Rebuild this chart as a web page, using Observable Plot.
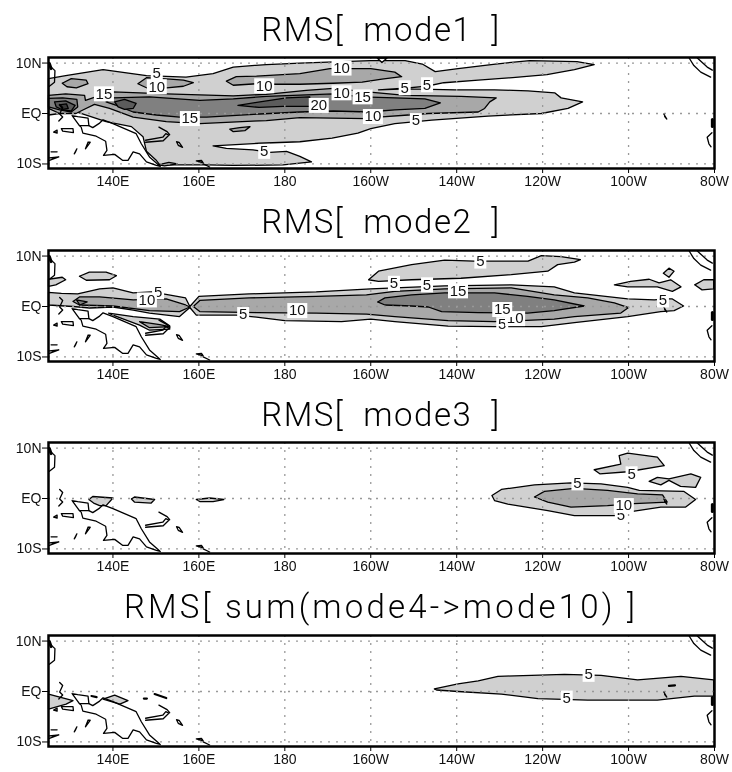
<!DOCTYPE html>
<html><head><meta charset="utf-8">
<script src="https://cdn.jsdelivr.net/npm/d3@7"></script>
<script src="https://cdn.jsdelivr.net/npm/@observablehq/plot@0.6"></script>
<style>
html,body{margin:0;padding:0;background:#fff;width:732px;height:772px;overflow:hidden}
#root{position:absolute;left:0;top:0;width:732px;height:772px;filter:blur(0.35px)}
.t{position:absolute;left:48px;width:666px;text-align:center;white-space:pre;font-family:Roboto,"Liberation Sans",sans-serif;font-weight:300;font-size:33px;line-height:36px;color:#000}
</style></head><body><div id="root"></div>
<script>
const lonTicks=[140,160,180,200,220,240,260,280];
const lonLabels=["140E","160E","180","160W","140W","120W","100W","80W"];
const latTicks=[10,0,-10];
const latLabels=["10N","EQ","10S"];
const titles=["RMS[  mode1  ]","RMS[  mode2  ]","RMS[  mode3  ]","RMS[ sum(mode4->mode10) ]"];
const shades={5:"#d0d0d0",10:"#a8a8a8",15:"#808080",20:"#5c5c5c",25:"#3a3a3a"};

const mode1Level5=[[[125,6.9],[129,7.5],[137.7,8.7],[147.8,7.5],[157,7.2],[163.3,7.9],[168,9.2],[175.7,9.7],[183.5,10],[190,10.2],[200,10.5],[208,10.5],[212,9.8],[215,8.3],[220.3,8.9],[229,9.8],[237,10.5],[248,10.3],[252,9.7],[247.4,8.7],[241,7.7],[233,7.1],[225,6.6],[217,6.1],[213,5.4],[208.7,5.1],[201.8,4.7],[208.7,4.9],[219.6,4.7],[228.8,4.7],[236.6,4.5],[242.8,4.1],[244.3,3.1],[249.3,2.3],[245.9,1],[239.7,0],[227.3,-0.5],[214.2,-1.3],[205.6,-2],[200,-3],[197,-3.9],[191,-4.9],[183.5,-5.6],[174,-5.9],[163.3,-6.4],[166.4,-6.9],[172.6,-7.2],[176.5,-7.7],[180.4,-7.5],[183.5,-8.5],[186.2,-9.6],[179.6,-10.2],[168,-10.3],[161.8,-10.2],[150.9,-10.2],[150,-9.2],[147.8,-7.5],[147,-4.6],[144.3,-2.6],[138.4,-1.6],[133.8,-0.3],[131.5,0.3],[127.6,0],[125,-0.3]]];
const mode1Hole=[[[201.5,11],[202.6,10.1],[203.8,11]]];
const mode1Level10=[
[[128.2,6],[130.3,6.9],[133.8,6.6],[134.2,5.9],[131.5,5.1],[129.3,5.3]],
[[147.8,7.1],[153.3,6.8],[156.4,6.6],[158.7,6.1],[156.4,5.4],[152.5,5.1],[147.8,5.1],[145.8,5.9]],
[[166.4,6.4],[168.7,7.3],[173.4,7.4],[183.5,7.9],[190.5,8.9],[200,8.9],[205.6,8.2],[207.2,7.3],[202.6,6.8],[198,6.2],[191.3,6],[183.5,5.8],[178,5.8],[173.4,5.9],[168,5.6]],
[[125,3.6],[129,3.9],[133.4,3.6],[133.6,2.6],[137,3.6],[140,4.3],[152.4,3.9],[168,3.5],[175.7,3.8],[185,4.6],[191.3,5],[198,4.4],[208,3.6],[221,3.4],[229.2,3.1],[227.7,2.3],[226.5,1],[225,0.3],[213.4,0],[208.7,-0.3],[201.8,-0.7],[199,-1],[183.5,-0.8],[175.7,-1.4],[160.2,-2],[152.4,-1.6],[144.7,-0.7],[139.2,1],[135.7,1.8],[133,0.7],[131.4,0],[127.6,0],[125,1]],
[[167.2,-3.1],[169.5,-2.8],[171.9,-2.6],[170.7,-3.4],[168,-3.6]],
[[150.5,-10.2],[153,-9.7],[155,-10],[152,-10.4]]];
const mode1Level15=[
[[125,3],[128.3,3.1],[131.6,2.8],[131.8,1.3],[130.3,0.3],[127.6,0.7],[125,1.3]],
[[140,3.1],[148.5,3.3],[160.2,2.6],[168,2.9],[175.7,3.4],[185,3.7],[191.3,3.9],[198,3.3],[205.6,3.1],[212.6,2.9],[216.2,2.1],[212.6,1],[205.6,0.7],[199.5,0.3],[191.3,0.5],[183.5,0.3],[174.2,-0.1],[161.8,-0.7],[155.5,-0.7],[150.1,-0.3],[144.7,0.3],[140.8,1.6],[138.4,2.3]]];
const mode1Level20=[
[[126.4,2.3],[129,2.5],[131.2,1.6],[130.3,0.5],[128.3,0.7],[126.8,1.3]],
[[140.4,2.3],[142.7,2.8],[145.4,2],[144.7,1],[142.7,0.8],[141.2,1.3]],
[[169.1,1.6],[174.2,2.3],[180.4,3.1],[185.8,3.3],[185.8,1.4],[179.6,1.4],[174,1.2]]];
const mode1Level25=[[[127.5,1.7],[129.2,1.9],[129.6,1],[128.4,0.8]]];

const mode2Level5=[
[[125,2.8],[128,2.6],[131.8,2.5],[136.9,3.5],[140,3.7],[144.7,2.7],[149,2.9],[153,2.3],[156.9,1.7],[157.9,0],[160,2],[171.7,2.5],[187.3,2.9],[200,3.5],[205.6,3.7],[217.2,4.1],[232.7,4.3],[242.7,3.9],[247.4,2.7],[259.8,1.5],[266,1.3],[268.7,1.5],[270.2,1.5],[272.8,0.1],[270.6,-0.8],[267.5,-1],[259.8,-2],[247.4,-3.2],[239.7,-4],[228.8,-4],[218,-3.9],[205.6,-3],[200,-2.5],[193.2,-3],[180,-2.8],[173.4,-2.1],[168.7,-1.7],[159.4,-1.7],[157.9,-0.2],[155.5,-2],[148.5,-1.3],[144.7,-0.7],[140,-0.1],[134.6,-0.3],[130.7,0],[125,0.3]],
[[139,-1.3],[144.7,-2],[150.9,-2.5],[153.2,-3.8],[153.2,-4.5],[148.5,-4.7],[146.2,-3.7],[140,-1.7]],
[[199.5,5.3],[201.8,7],[209.5,8.3],[217.2,9.2],[224,9],[236.6,9],[239.7,10.1],[244.3,9.9],[248.8,9.3],[247.4,8.8],[243.5,8.3],[241.2,7],[232.7,6.3],[221,5.6],[209.5,5.3],[201.8,5]],
[[132.2,6],[134.5,6.8],[138.4,6.8],[140.8,6.1],[139.2,5.3],[133.8,5.2]],
[[125,5.4],[128.2,5.8],[129,5.3],[126.7,4.3],[125,4]],
[[256.7,4.3],[260.5,5],[264.8,5.4],[267.1,4.7],[269.8,5.3],[272.2,3.9],[270.2,3],[266.7,3.9],[259.8,3.9]],
[[268.1,6.6],[269.4,7.6],[270.6,7],[269.4,5.8]],
[[275.4,4.3],[277.5,5.3],[279.8,5.3],[279.8,3.5],[277.1,3.3]]];
const mode2Level10=[
[[130.7,1],[132.2,1.9],[136.9,1.9],[144.7,1.3],[152.4,1.5],[156.9,0.3],[157.9,-0.1],[155.5,-1],[148.5,-0.8],[140,0.1],[132.2,0.3]],
[[146.2,-3],[150.9,-3.6],[153.2,-4],[148.5,-4.2]],
[[158.7,0],[160.2,1.2],[171.7,1.7],[187.3,2],[199,2.3],[205.6,3],[217.2,3.5],[232.7,3.7],[242.7,2.3],[250.5,1.7],[256.7,0.7],[260,-0.2],[258.2,-1.3],[247.4,-2],[242.7,-2.5],[235,-2.8],[228.8,-3],[218,-2.8],[205.6,-2],[199,-1.5],[187.3,-1.3],[173.4,-1.2],[160.2,-1]]];
const mode2Level15=[
[[131.5,1.3],[134,0.9],[132.3,0.3]],
[[201.6,0.9],[203.3,1.7],[209.5,2.3],[217.2,2.7],[228.8,2.7],[236.5,2],[242.7,1.3],[249.7,0.1],[242.7,-0.8],[236.5,-1.3],[225,-1.2],[216.5,-1],[213.4,-0.1],[209.5,0.1],[203.3,0.3]]];

const mode3Level5=[
[[228.2,0.6],[230.4,1.8],[238.1,2.7],[246.6,3.1],[253.6,2.9],[259.8,2.2],[262.5,1.6],[272.9,1.4],[275.6,-0.2],[273.3,-1.7],[267.5,-1.7],[259.8,-2.7],[257.5,-3.4],[247.4,-3.4],[241.2,-2.4],[231.9,-1.1],[228.8,-0.4]],
[[252,5.7],[258.2,6.8],[257.8,8.5],[259.8,9],[266.7,8.2],[268.3,6.5],[259.8,5.3],[253.3,4.9]],
[[264.8,3.4],[266.7,4.2],[269.4,3.9],[274.5,4.9],[276.8,4.2],[275.6,2.2],[272.1,2.4],[269.4,3.6],[267.5,2.7]],
[[134.4,-0.2],[135.3,0.4],[140,0.1],[138.4,-1.4],[136.9,-1.4],[135.5,-0.9]],
[[144.3,-0.1],[145,0.3],[149.7,-0.2],[148.9,-0.9],[145,-0.7]],
[[159.4,-0.2],[162.5,0.1],[165.8,-0.2],[163.3,-0.6],[160.2,-0.6]]];
const mode3Level10=[[[238.1,0.3],[240.4,1.4],[247.4,2],[255.1,1.6],[262.1,0.9],[267.9,0.7],[269,-0.7],[261.3,-1],[255.1,-1.4],[246.6,-1.7],[241.2,-0.7]]];

const mode4Level5=[
[[214.8,0.5],[220.3,1.5],[225,2.1],[229.6,3],[237.4,3.2],[245.1,3.4],[253.6,3.2],[262.1,2.3],[272.2,3],[279.8,2.3],[279.8,-0.9],[275.3,-0.9],[266.7,-1.7],[250.5,-1.7],[238.9,-1.4],[230.4,-0.5],[220.3,0],[215.3,0.3]],
[[125,-0.5],[130.7,-1.8],[129.1,-2.5],[125,-3.5]],
[[137.7,-1.5],[140.4,-0.7],[143.5,-1.8],[141.6,-2.5]]];
const mode4Marks=[[[269.4,1.1],[270.8,1.2]],[[149.7,-0.5],[152.4,-1.3]],[[147.2,-1.4],[147.9,-1.4]],[[135,-0.9],[136.2,-1.1]]];

const coastLines=[
[[130.5,-0.4],[131.8,-0.6],[134.2,-0.9],[134.4,-2.4],[132.2,-2.4],[131.6,-1.7],[130.5,-0.4]],
[[132.2,-2.4],[132.6,-2.7],[133,-3.9],[136.1,-4.5],[138.3,-5.5],[138.6,-7.3],[137.8,-8.3],[140.4,-8.1],[142.3,-9.3],[143.5,-9.3],[144.7,-7.6],[146.2,-8],[147.8,-9.6],[150.1,-10.3],[151,-10.5],[150.1,-9.8],[148.5,-8.6],[146.6,-6],[145.4,-4],[140,-2],[137.7,-1.25],[136.9,-1.9],[135.3,-2.8],[134.4,-2.4]],
[[147.6,-5.7],[151.7,-5.4],[153,-4.3],[152.3,-4],[151.6,-4.7],[147.6,-5.3]],
[[150.7,-2.7],[152.6,-3.6],[153.2,-4.2]],
[[154.8,-5.6],[155.4,-5.7],[156.2,-6.7],[155.2,-6.3],[154.8,-5.6]],
[[159.4,-9.4],[160.6,-9.3],[161,-9.8],[159.4,-9.4]],
[[161,-10],[162.5,-10.6]],
[[127.6,1.8],[128.3,1.2],[127.6,-0.1],[128.3,-0.7],[127.4,-1.5]],
[[125.2,9.5],[126.5,8.5],[126.4,6.2],[125.2,5.4]],
[[128,-3],[130.7,-3],[130.8,-3.8],[128.3,-3.5],[128,-3]],
[[126.2,-3.7],[127,-3.3],[127,-3.9],[126.2,-3.7]],
[[134.2,-5.7],[134.7,-5.7],[133.6,-7],[134.2,-5.7]],
[[131.6,-7],[131,-8],[131.3,-7.6],[131.6,-7]],
[[125.2,-8.8],[127.4,-8.6],[125.2,-9.3]],
[[125.6,-7.6],[127,-7.6]],
[[274.1,11],[275.2,9.5],[276.8,8.2],[279.1,7.2]],
[[276,11],[278.3,9.2],[279.5,8.6]],
[[279.4,-3.8],[278.3,-4.7],[278.7,-6],[279.2,-6.6]],
[[268.2,-0.1],[268.9,-1.1],[268.4,-0.6]]];
const coastHeavy=[[[279.5,-1.2],[279.5,-2.6]],[[125.2,9.9],[125.6,8.9]]];

const mode1Labels=[["5",150.2,8],["10",150.2,5.3],["15",137.9,3.9],["10",175.2,5.5],["10",193.2,9],["10",193.2,4.1],["15",198.1,3.3],["5",207.9,5.1],["5",213.1,5.7],["20",187.9,1.6],["15",157.9,-1],["10",200.5,-0.6],["5",210.5,-1.4],["5",175.2,-7.5]];
const mode2Labels=[["5",225.5,9],["5",205.4,4.6],["5",213.1,4.3],["15",220.3,3.1],["5",150.5,2.9],["10",147.9,1.3],["5",170.3,-1.6],["10",182.9,-0.8],["5",230.6,-3.6],["10",233.6,-2.4],["15",230.6,-0.6],["5",268,1.3]];
const mode3Labels=[["5",248.1,3.1],["5",260.7,4.9],["5",258.2,-3.3],["10",258.9,-1.4]];
const mode4Labels=[["5",250.7,3.4],["5",245.6,-1.3]];

const panels=[
 {top:57,title:12,layers:[[mode1Level5,5],[mode1Level10,10],[mode1Level15,15],[mode1Level20,20],[mode1Level25,25]],holes:mode1Hole,labels:mode1Labels,extra:[]},
 {top:250,title:204,layers:[[mode2Level5,5],[mode2Level10,10],[mode2Level15,15]],holes:[],labels:mode2Labels,extra:[]},
 {top:442,title:397,layers:[[mode3Level5,5],[mode3Level10,10]],holes:[],labels:mode3Labels,extra:[]},
 {top:635,title:589,layers:[[mode4Level5,5]],holes:[],labels:mode4Labels,extra:mode4Marks}
];
const titleSpacing=["1.5px","1.5px","1.5px","3.2px"];
const rows=(rings,closed=true)=>rings.flatMap((r,i)=>(closed?[...r,r[0]]:r).map(([lon,lat])=>({lon,lat,i})));
const boxSymbol=(hw,hh)=>({draw(c){c.rect(-hw,-hh,2*hw,2*hh);}});
const root=document.getElementById("root");
const F='"Liberation Sans",sans-serif';
panels.forEach((p,idx)=>{
  const marks=[];
  for(const [rings,lev] of p.layers) marks.push(Plot.line(rows(rings),{x:"lon",y:"lat",z:"i",fill:shades[lev],stroke:"#000",strokeWidth:1.3}));
  if(p.holes.length) marks.push(Plot.line(rows(p.holes),{x:"lon",y:"lat",z:"i",fill:"#fff",stroke:"#000",strokeWidth:1.3}));
  marks.push(Plot.gridX(lonTicks.slice(0,-1),{stroke:"#999",strokeOpacity:1,strokeWidth:1.3,strokeDasharray:"2,6"}));
  marks.push(Plot.gridY(latTicks,{stroke:"#999",strokeOpacity:1,strokeWidth:1.3,strokeDasharray:"2,6"}));
  marks.push(Plot.line(rows(coastLines,false),{x:"lon",y:"lat",z:"i",stroke:"#000",strokeWidth:1.3}));
  marks.push(Plot.line(rows(coastHeavy,false),{x:"lon",y:"lat",z:"i",stroke:"#000",strokeWidth:3}));
  if(p.extra.length) marks.push(Plot.line(rows(p.extra,false),{x:"lon",y:"lat",z:"i",stroke:"#000",strokeWidth:2.2}));
  for(const l of p.labels){
    marks.push(Plot.dot([l],{x:d=>d[1],y:d=>d[2],fill:"#fff",stroke:"none",r:1,symbol:boxSymbol(l[0].length>1?10:6,7.5)}));
    marks.push(Plot.text([l],{x:d=>d[1],y:d=>d[2],text:d=>d[0],fontSize:15,fill:"#111"}));
  }
  marks.push(Plot.axisX({ticks:lonTicks,tickFormat:d=>lonLabels[lonTicks.indexOf(d)],tickSize:5,tickPadding:3,anchor:"bottom",label:null,fontSize:14,stroke:"#000",color:"#111"}));
  marks.push(Plot.axisY({ticks:latTicks,tickFormat:d=>latLabels[latTicks.indexOf(d)],tickSize:6,tickPadding:1,anchor:"left",label:null,fontSize:14,stroke:"#000",color:"#111"}));
  marks.push(Plot.frame({stroke:"#000",strokeWidth:2.5}));
  const svg=Plot.plot({width:732,height:141,marginLeft:48,marginRight:18,marginTop:4,marginBottom:26,
    x:{domain:[125,280]},y:{domain:[-10.9,11.1]},style:{fontFamily:F,background:"transparent",overflow:"visible"},marks});
  svg.style.position="absolute";svg.style.left="0";svg.style.top=(p.top-4)+"px";
  root.appendChild(svg);
  const t=document.createElement("div");t.className="t";t.style.top=p.title+"px";t.style.letterSpacing=titleSpacing[idx];t.textContent=titles[idx];root.appendChild(t);
});
</script></body></html>
